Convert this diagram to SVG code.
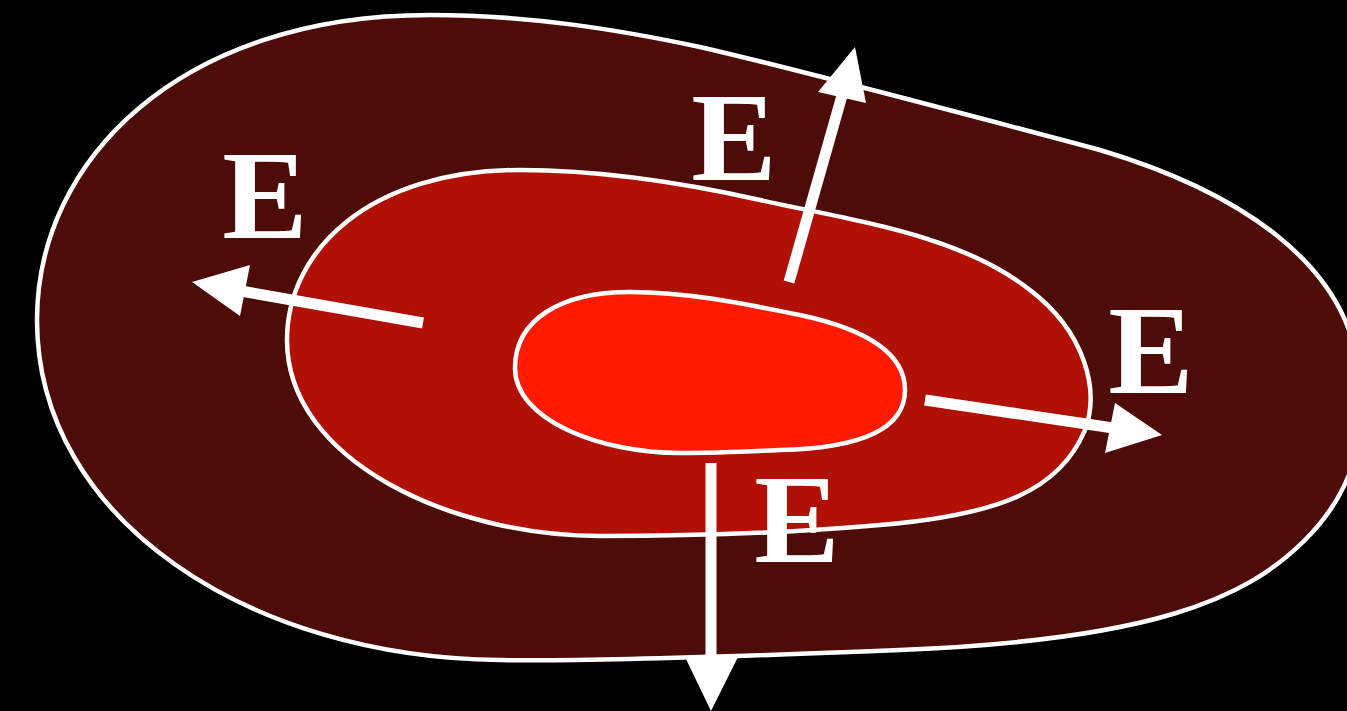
<svg xmlns="http://www.w3.org/2000/svg" width="1347" height="711" viewBox="0 0 1347 711">
<style>
.region{stroke:#fff;stroke-width:4.5}
.lbl{font-family:"Liberation Serif","Times New Roman",serif;font-weight:bold;font-size:128px;fill:#fff;text-anchor:middle}
.shaft{stroke:#fff;stroke-width:11;fill:none}
.head{fill:#fff}
</style>
<rect width="1347" height="711" fill="#000"/>
<g id="outer"><path class="region" fill="#4d0c08" d="M37,320 C37,160 180,15 430,15 C530,15 620,30 700,47 C800,70 950,110 1100,150 C1250,195 1335,265 1355,350 C1372,430 1355,490 1305,540 C1245,600 1150,640 900,650 C800,654 600,662 500,660 C250,658 37,520 37,320 Z"/></g>
<g id="middle"><path class="region" fill="#b01005" d="M287,340 C287,250 370,170 520,170 C600,170 680,182 760,200 C860,222 960,235 1030,290 C1085,332 1100,390 1085,430 C1060,490 1000,515 880,525 C800,532 700,536 600,536 C450,536 287,460 287,340 Z"/></g>
<g id="inner"><path class="region" fill="#ff1a00" d="M515,368 C515,320 560,292 630,292 C690,292 750,305 800,315 C870,330 905,355 905,390 C905,425 870,448 780,450 C740,452 710,453 680,453 C600,453 515,420 515,368 Z"/></g>
<g id="connectors">
<line class="shaft" x1="423" y1="323" x2="235" y2="290"/>
<polygon class="head" points="192,282 250,265 240,316"/>
<line class="shaft" x1="789" y1="282" x2="845" y2="85"/>
<polygon class="head" points="855,47 818,92 866,103"/>
<line class="shaft" x1="925" y1="400" x2="1120" y2="429"/>
<polygon class="head" points="1162,435 1115,403 1105,453"/>
<line class="shaft" x1="711" y1="463" x2="711" y2="665"/>
<polygon class="head" points="711,711 685,657 738,657"/>
</g>
<g id="labels">
<text class="lbl" x="265" y="238">E</text>
<text class="lbl" x="734" y="180">E</text>
<text class="lbl" x="1151" y="393">E</text>
<text class="lbl" x="797" y="562">E</text>
</g>
</svg>
